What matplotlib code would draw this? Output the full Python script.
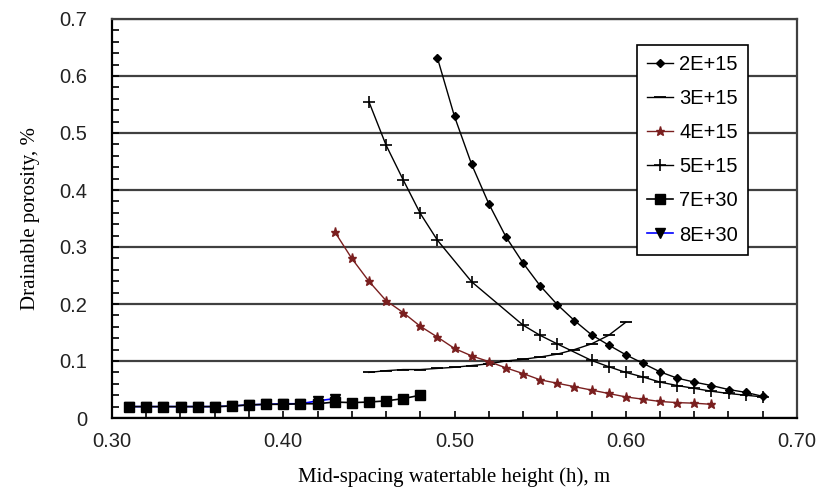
import numpy as np
import matplotlib
matplotlib.use("Agg")
import matplotlib.pyplot as plt
from matplotlib.ticker import MultipleLocator, FormatStrFormatter, FuncFormatter

# 2E+15 - diamonds
x_2e15 = [0.49, 0.50, 0.51, 0.52, 0.53, 0.54, 0.55, 0.56, 0.57, 0.58,
          0.59, 0.60, 0.61, 0.62, 0.63, 0.64, 0.65, 0.66, 0.67, 0.68]
y_2e15 = [0.632, 0.529, 0.445, 0.376, 0.318, 0.272, 0.232, 0.199, 0.171, 0.146,
          0.128, 0.111, 0.096, 0.081, 0.070, 0.063, 0.057, 0.050, 0.045, 0.038]

# 3E+15 - dash markers (flat curve rising at the end)
x_3e15 = [0.45, 0.46, 0.47, 0.48, 0.49, 0.50, 0.51, 0.52, 0.53, 0.54,
          0.55, 0.56, 0.57, 0.58, 0.59, 0.60]
y_3e15 = [0.080, 0.083, 0.085, 0.085, 0.087, 0.089, 0.092, 0.095, 0.100, 0.103,
          0.107, 0.112, 0.120, 0.130, 0.145, 0.168]

# 4E+15 - stars
x_4e15 = [0.43, 0.44, 0.45, 0.46, 0.47, 0.48, 0.49, 0.50, 0.51, 0.52, 0.53, 0.54,
          0.55, 0.56, 0.57, 0.58, 0.59, 0.60, 0.61, 0.62, 0.63, 0.64, 0.65]
y_4e15 = [0.327, 0.280, 0.240, 0.206, 0.185, 0.161, 0.142, 0.122, 0.109, 0.099, 0.088, 0.078,
          0.067, 0.061, 0.055, 0.049, 0.043, 0.037, 0.033, 0.029, 0.027, 0.026, 0.024]

# 5E+15 - plus markers (descending curve)
x_5e15 = [0.45, 0.46, 0.47, 0.48, 0.49, 0.51, 0.54, 0.55, 0.56, 0.58,
          0.59, 0.60, 0.61, 0.62, 0.63, 0.64, 0.65, 0.66, 0.67, 0.68]
y_5e15 = [0.555, 0.479, 0.418, 0.359, 0.312, 0.239, 0.163, 0.145, 0.130, 0.101,
          0.090, 0.080, 0.072, 0.063, 0.057, 0.052, 0.047, 0.043, 0.040, 0.037]

# 7E+30 - squares
x_7e30 = [0.31, 0.32, 0.33, 0.34, 0.35, 0.36, 0.37, 0.38, 0.39,
          0.40, 0.41, 0.42, 0.43, 0.44, 0.45, 0.46, 0.47, 0.48]
y_7e30 = [0.020, 0.020, 0.020, 0.020, 0.020, 0.020, 0.021, 0.023, 0.024,
          0.024, 0.025, 0.025, 0.028, 0.027, 0.028, 0.030, 0.034, 0.040]

# 8E+30 - down triangles, blue line
x_8e30 = [0.31, 0.32, 0.33, 0.34, 0.35, 0.36, 0.37, 0.38, 0.39, 0.40, 0.41, 0.42, 0.43]
y_8e30 = [0.020, 0.020, 0.020, 0.020, 0.020, 0.020, 0.021, 0.023, 0.024, 0.025, 0.025, 0.030, 0.034]

red = "#7a1f1f"
grid_col = "#404040"
tick_font = "Liberation Sans"
label_font = "Liberation Serif"

fig = plt.figure(figsize=(8.16, 4.93), dpi=100)
ax = fig.add_axes([112 / 816, 1 - 418 / 493, 685 / 816, 399 / 493])

ax.plot(x_8e30, y_8e30, color="#0000ff", lw=1.2, marker="v", ms=7,
        mfc="black", mec="black", label="8E+30", zorder=3)
ax.plot(x_7e30, y_7e30, color="black", lw=1.2, marker="s", ms=7,
        label="7E+30", zorder=4)
ax.plot(x_3e15, y_3e15, color="black", lw=1.0, marker="_", ms=9, mew=1.3,
        label="3E+15", zorder=3)
ax.plot(x_5e15, y_5e15, color="black", lw=1.0, marker="+", ms=9, mew=1.2,
        label="5E+15", zorder=3)
ax.plot(x_4e15, y_4e15, color=red, lw=1.0, marker="*", ms=6.5,
        label="4E+15", zorder=3)
ax.plot(x_2e15, y_2e15, color="black", lw=1.0, marker="D", ms=4.5,
        label="2E+15", zorder=3)

ax.set_xlim(0.30, 0.70)
ax.set_ylim(0, 0.7)

ax.xaxis.set_major_locator(MultipleLocator(0.1))
ax.xaxis.set_minor_locator(MultipleLocator(0.02))
ax.xaxis.set_major_formatter(FormatStrFormatter("%.2f"))
ax.yaxis.set_major_locator(MultipleLocator(0.1))
ax.yaxis.set_minor_locator(MultipleLocator(0.02))
ax.yaxis.set_major_formatter(FuncFormatter(lambda v, p: "0" if abs(v) < 1e-9 else f"{v:.1f}"))

ax.tick_params(axis="both", which="both", direction="in", length=5, width=1.2,
               color="black")
ax.tick_params(axis="x", which="major", pad=10)
ax.tick_params(axis="y", which="major", pad=18)
for lab in ax.get_xticklabels() + ax.get_yticklabels():
    lab.set_fontfamily(tick_font)
    lab.set_fontsize(14.5)
    lab.set_color("#222222")

ax.yaxis.grid(True, which="major", color=grid_col, lw=1.6)
ax.set_axisbelow(True)

ax.spines["left"].set_linewidth(1.6)
ax.spines["bottom"].set_linewidth(1.6)
ax.spines["top"].set_color(grid_col)
ax.spines["top"].set_linewidth(1.6)
ax.spines["right"].set_color(grid_col)
ax.spines["right"].set_linewidth(1.6)

ax.set_xlabel("Mid-spacing watertable height (h), m", fontfamily=label_font,
              fontsize=15, labelpad=12)
ax.set_ylabel("Drainable porosity, %", fontfamily=label_font, fontsize=15,
              labelpad=14)

handles, labels = ax.get_legend_handles_labels()
order = ["2E+15", "3E+15", "4E+15", "5E+15", "7E+30", "8E+30"]
hmap = dict(zip(labels, handles))
leg = ax.legend([hmap[k] for k in order], order, loc="upper left",
                bbox_to_anchor=(0.766, 0.935), borderaxespad=0,
                frameon=True, fancybox=False, framealpha=1, edgecolor="black",
                handlelength=1.3, handletextpad=0.3, labelspacing=0.75,
                borderpad=0.5, prop={"family": tick_font, "size": 14.5})
leg.get_frame().set_linewidth(1.2)

fig.savefig("out.png", dpi=100)
